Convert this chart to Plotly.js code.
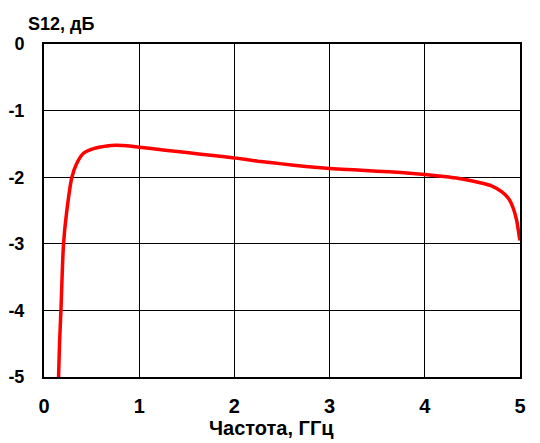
<!DOCTYPE html>
<html>
<head>
<meta charset="utf-8">
<script src="https://cdn.plot.ly/plotly-3.0.1.min.js"></script>
<style>html,body{margin:0;padding:0;background:#fff;}#chart{width:540px;height:443px;}</style>
</head>
<body>
<div id="chart"></div>
<script>
const freqGHz = [0.153, 0.163, 0.178, 0.19, 0.205, 0.24, 0.293, 0.345, 0.415, 0.52, 0.66, 0.75, 0.9, 1.0, 1.25, 1.5, 1.75, 2.0, 2.25, 2.5, 2.75, 3.0, 3.25, 3.5, 3.75, 4.0, 4.2, 4.36, 4.57, 4.70, 4.81, 4.88, 4.93, 4.965, 4.99, 5.0];
const s12dB   = [-5.0, -4.5, -4.0, -3.5, -3.0, -2.5, -2.0, -1.79, -1.64, -1.57, -1.53, -1.52, -1.53, -1.55, -1.59, -1.63, -1.67, -1.71, -1.76, -1.80, -1.84, -1.87, -1.89, -1.91, -1.93, -1.96, -1.99, -2.02, -2.08, -2.13, -2.22, -2.32, -2.47, -2.65, -2.87, -2.95];
const xTicks = [0, 1, 2, 3, 4, 5];
const yTicks = [0, -1, -2, -3, -4, -5];
const yTitle = "S12, дБ";
const xTitle = "Частота, ГГц";

const fam = "Liberation Sans, Arial, sans-serif";
const trace = {
  x: freqGHz, y: s12dB, type: "scatter", mode: "lines",
  line: {color: "#ff0000", width: 3.5, shape: "spline", smoothing: 0.6},
  hoverinfo: "skip"
};
const axisCommon = {
  showgrid: true, gridcolor: "#000", gridwidth: 1,
  showline: true, linecolor: "#000", linewidth: 2, mirror: true,
  zeroline: false, ticks: "", tickmode: "array", fixedrange: true
};
const layout = {
  width: 540, height: 443,
  margin: {l: 44, r: 20, t: 44, b: 66, pad: 0},
  paper_bgcolor: "#fff", plot_bgcolor: "#fff",
  showlegend: false,
  xaxis: Object.assign({}, axisCommon, {
    range: [0, 5], tickvals: xTicks, ticktext: xTicks.map(String),
    tickfont: {family: fam, size: 20, color: "#000", weight: "bold"},
    ticklabelstandoff: 10
  }),
  yaxis: Object.assign({}, axisCommon, {
    range: [-5, 0], tickvals: yTicks, ticktext: yTicks.map(String),
    tickfont: {family: fam, size: 18, color: "#000", weight: "bold"},
    ticklabelstandoff: 14
  }),
  annotations: [
    {text: yTitle, xref: "paper", yref: "paper", x: -0.038, y: 1.0586,
     xanchor: "left", yanchor: "middle", showarrow: false,
     font: {family: fam, size: 18, color: "#000", weight: "bold"}},
    {text: xTitle, xref: "paper", yref: "paper", x: 0.477, y: -0.153,
     xanchor: "center", yanchor: "middle", showarrow: false,
     font: {family: fam, size: 20, color: "#000", weight: "bold"}}
  ]
};
Plotly.newPlot("chart", [trace], layout, {staticPlot: true, displayModeBar: false});
</script>
</body>
</html>
